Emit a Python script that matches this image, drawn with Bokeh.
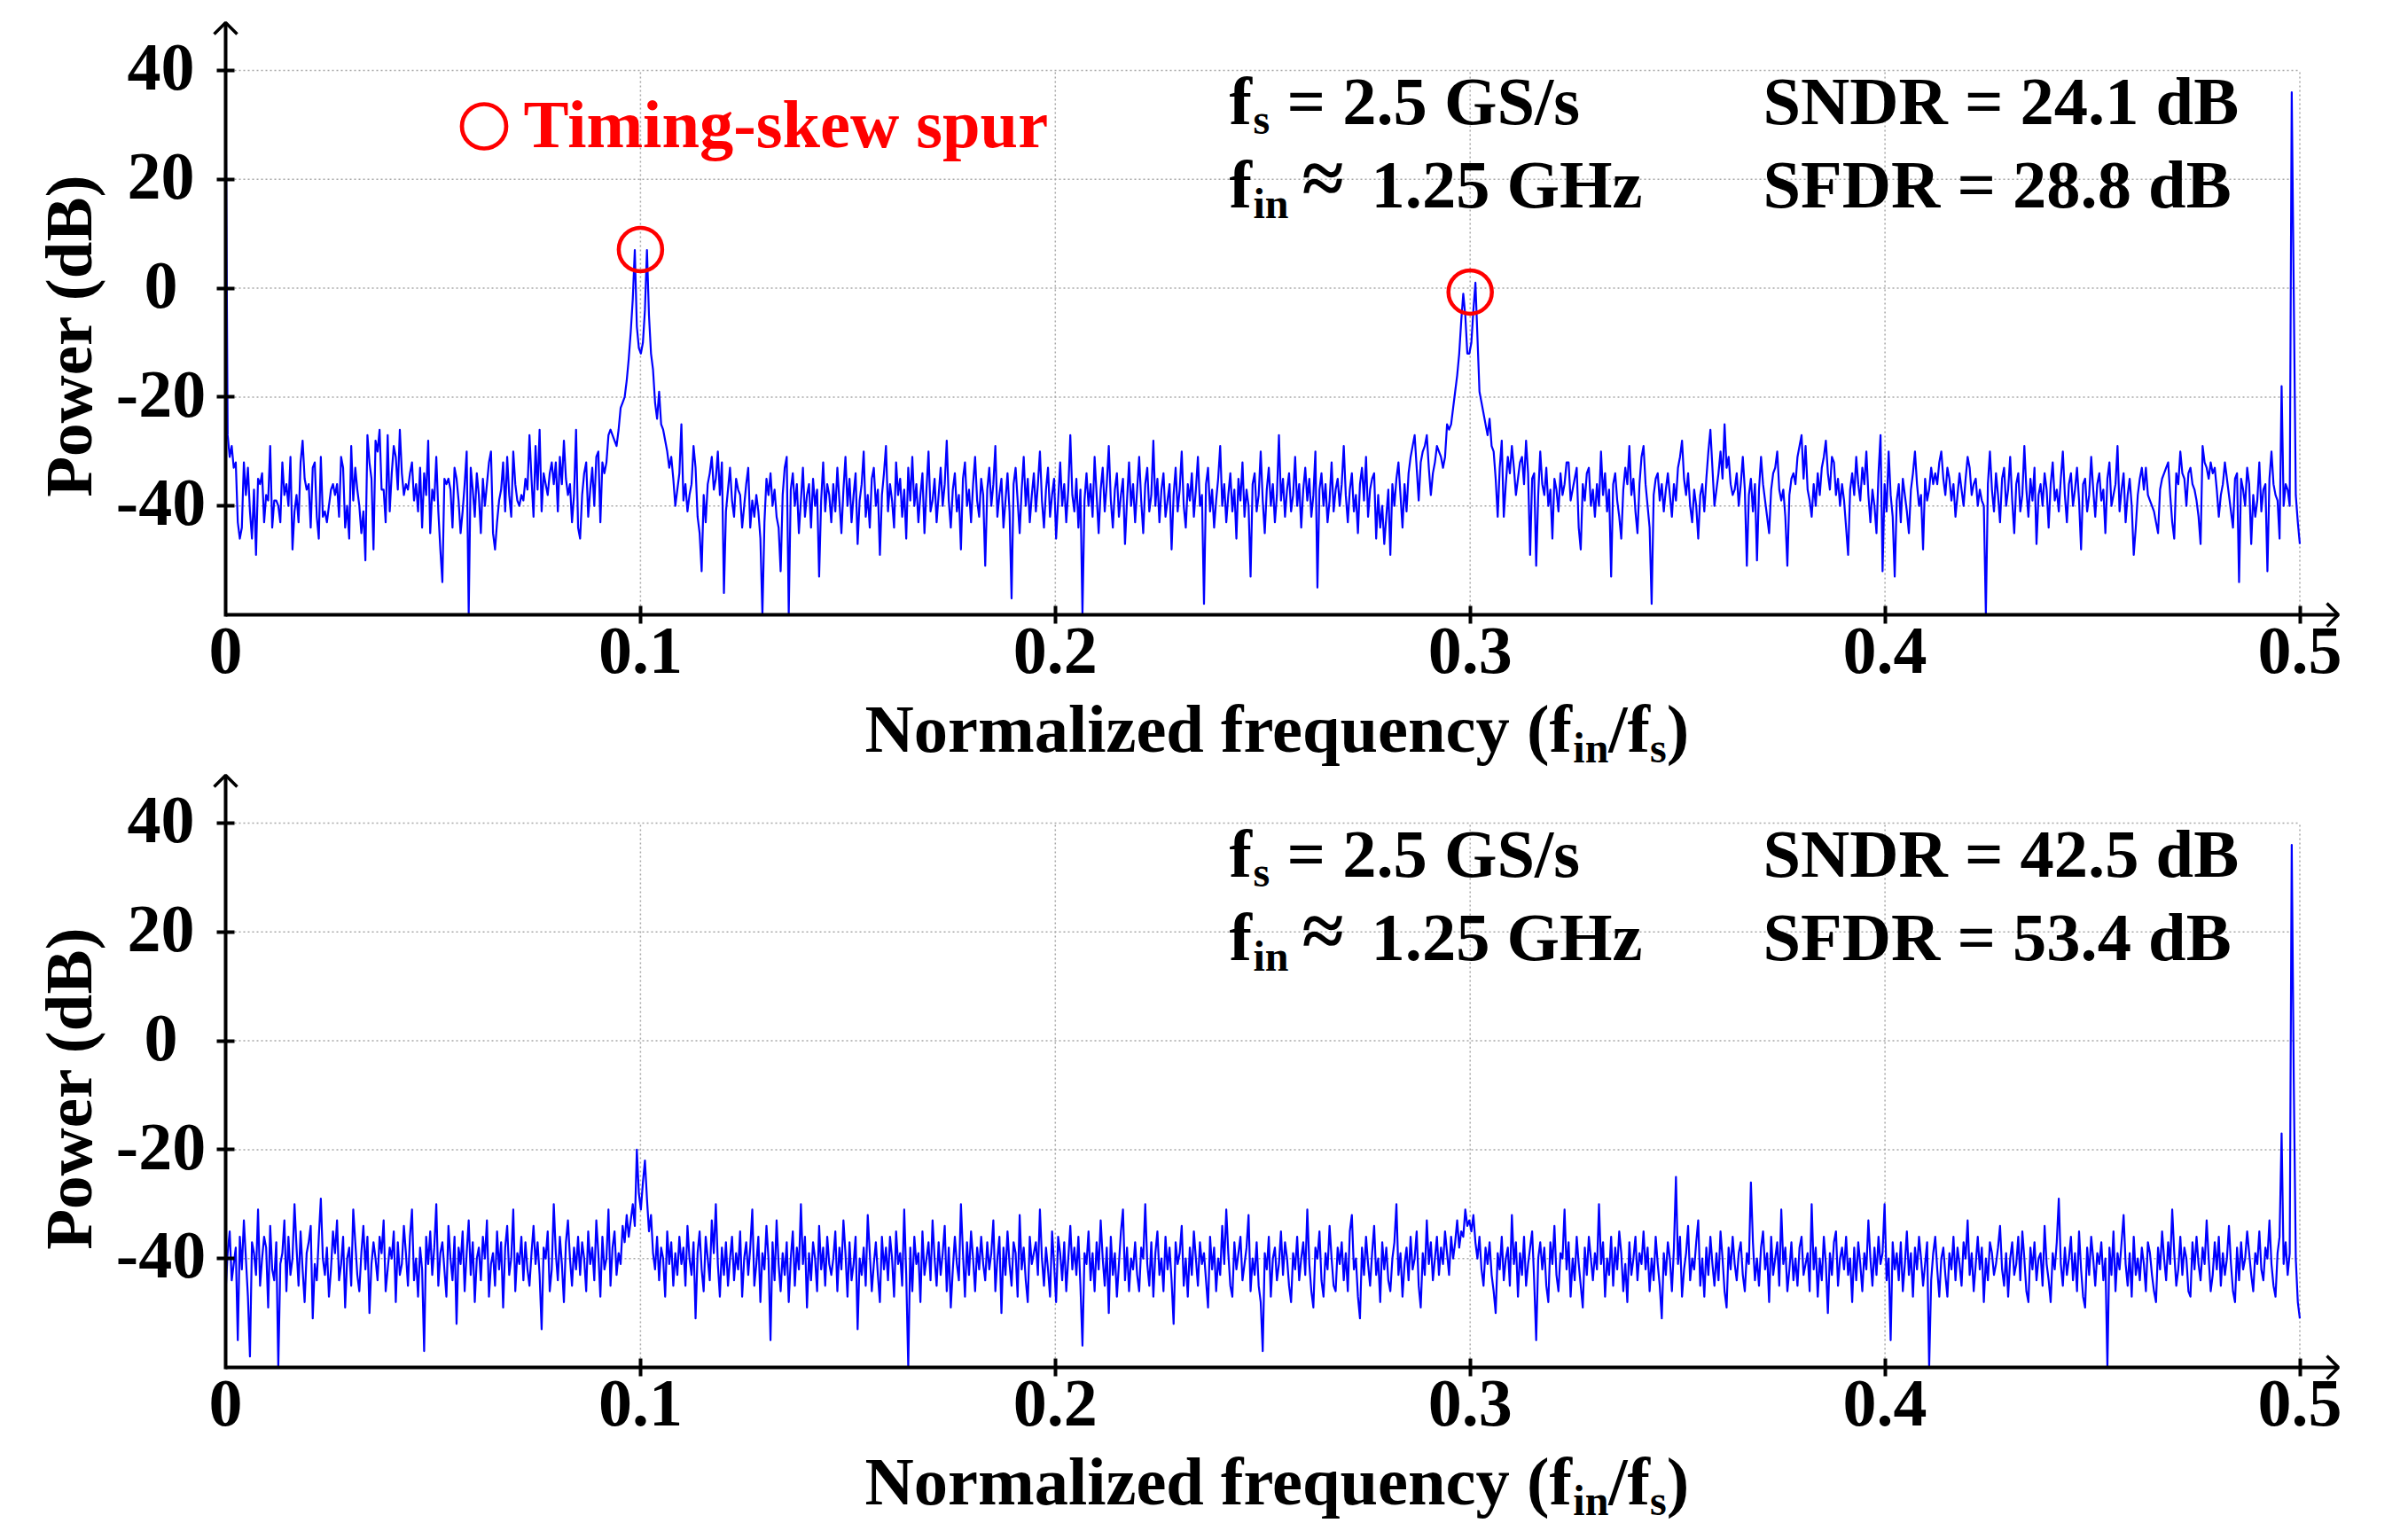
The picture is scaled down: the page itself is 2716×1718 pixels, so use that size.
import numpy as np
from bokeh.plotting import figure
from bokeh.models import LinearAxis, Range1d, FixedTicker
from bokeh.core.properties import value
from bokeh.embed import file_html
from bokeh.resources import INLINE

# ---------------- data (dB per FFT bin, 0 .. fs/2) ----------------
top_db = [
    37, -27, -31, -29, -33, -32, -43, -46, -44, -32, -38, -33, -41, -46, -37, -49, -35, -36, -34, -43, -38, -39, -29, -44, -39,
    -39, -40, -43, -32, -38, -36, -40, -31, -48, -41, -38, -43, -32, -28, -35, -37, -36, -44, -33, -32, -42, -46, -31, -42, -41,
    -43, -40, -37, -36, -38, -36, -42, -31, -33, -44, -40, -46, -29, -39, -33, -37, -40, -45, -41, -50, -27, -32, -35, -48, -28,
    -30, -26, -37, -37, -43, -27, -41, -34, -29, -31, -37, -26, -34, -38, -36, -37, -34, -32, -39, -36, -41, -33, -44, -34, -38,
    -28, -45, -37, -39, -31, -41, -48, -54, -35, -36, -35, -37, -44, -33, -35, -39, -45, -41, -36, -30, -60, -33, -37, -42, -34,
    -38, -45, -35, -40, -36, -32, -30, -45, -48, -43, -39, -37, -32, -41, -31, -38, -42, -30, -36, -39, -40, -38, -39, -35, -37,
    -27, -35, -42, -29, -37, -26, -41, -34, -36, -38, -34, -32, -36, -32, -41, -31, -36, -28, -35, -38, -36, -43, -38, -26, -44,
    -46, -38, -34, -32, -42, -37, -33, -40, -31, -30, -43, -32, -34, -32, -27, -26, -27, -28, -29, -26, -22, -21, -20, -17, -13,
    -8, -2, 7, -7, -11, -12, -10, -4, 7, -5, -12, -15, -21, -24, -19, -25, -26, -28, -30, -33, -31, -35, -40, -37, -34,
    -25, -39, -36, -41, -38, -36, -29, -33, -42, -45, -52, -38, -43, -36, -34, -31, -37, -35, -30, -38, -32, -56, -41, -37, -33,
    -39, -42, -35, -37, -38, -44, -40, -36, -33, -44, -39, -42, -38, -41, -46, -60, -43, -35, -38, -34, -40, -37, -42, -44, -52,
    -38, -33, -31, -60, -37, -34, -40, -36, -45, -39, -33, -42, -38, -36, -44, -35, -40, -37, -53, -39, -32, -41, -36, -38, -43,
    -36, -41, -33, -39, -45, -37, -31, -40, -35, -43, -38, -34, -47, -39, -36, -30, -42, -38, -44, -35, -33, -40, -37, -49, -38,
    -34, -29, -41, -36, -39, -44, -32, -38, -35, -42, -37, -46, -33, -39, -31, -40, -36, -43, -38, -34, -45, -37, -30, -41, -39,
    -35, -43, -38, -33, -40, -36, -28, -39, -44, -37, -34, -41, -38, -48, -35, -32, -40, -37, -43, -36, -31, -39, -42, -35, -38,
    -51, -37, -33, -40, -36, -29, -42, -38, -35, -44, -39, -34, -41, -57, -36, -33, -39, -45, -37, -31, -40, -35, -43, -38, -34,
    -41, -36, -30, -39, -44, -37, -33, -42, -38, -35, -46, -39, -32, -40, -36, -43, -37, -27, -38, -41, -35, -44, -37, -60, -39,
    -34, -40, -36, -42, -31, -38, -45, -37, -33, -41, -36, -29, -39, -44, -37, -34, -42, -38, -35, -47, -39, -32, -40, -36, -43,
    -37, -31, -39, -45, -36, -33, -41, -38, -28, -40, -35, -43, -37, -34, -42, -39, -36, -48, -38, -33, -41, -37, -30, -40, -44,
    -36, -39, -34, -42, -37, -31, -40, -38, -58, -36, -33, -41, -37, -44, -39, -35, -29, -40, -36, -43, -38, -34, -41, -37, -46,
    -35, -39, -32, -42, -37, -40, -53, -36, -34, -41, -38, -30, -39, -45, -37, -33, -40, -36, -43, -38, -27, -39, -35, -42, -37,
    -34, -41, -38, -31, -40, -36, -44, -37, -33, -39, -35, -42, -38, -30, -55, -37, -34, -40, -36, -43, -39, -32, -41, -37, -35,
    -40, -36, -29, -38, -43, -37, -34, -41, -38, -45, -36, -33, -39, -31, -42, -37, -35, -34, -46, -38, -44, -40, -47, -42, -37,
    -49, -36, -40, -35, -32, -38, -44, -36, -41, -34, -31, -29, -27, -33, -39, -32, -30, -29, -27, -33, -38, -34, -32, -29, -30,
    -31, -33, -31, -25, -26, -25, -22, -19, -16, -12, -6, -1, -5, -12, -12, -10, -4, 1, -9, -19, -21, -23, -25, -27, -24,
    -29, -30, -35, -42, -33, -28, -42, -36, -31, -34, -29, -33, -38, -35, -32, -31, -36, -28, -34, -49, -35, -34, -51, -38, -30,
    -36, -38, -33, -40, -37, -46, -35, -37, -41, -34, -38, -36, -32, -32, -39, -37, -35, -33, -44, -48, -36, -39, -34, -33, -40,
    -37, -42, -36, -40, -30, -38, -34, -41, -37, -53, -36, -34, -39, -42, -46, -37, -33, -36, -29, -38, -35, -41, -45, -36, -31,
    -29, -36, -40, -44, -58, -38, -35, -34, -39, -36, -41, -37, -34, -38, -42, -36, -39, -33, -31, -28, -35, -38, -34, -40, -43,
    -37, -40, -46, -38, -36, -41, -35, -30, -26, -33, -40, -37, -34, -30, -35, -25, -33, -31, -36, -38, -37, -34, -40, -36, -31,
    -37, -51, -38, -35, -41, -36, -50, -37, -31, -36, -39, -42, -45, -37, -34, -33, -30, -37, -39, -37, -42, -51, -38, -35, -34,
    -36, -31, -29, -27, -35, -29, -37, -39, -42, -36, -40, -34, -38, -33, -31, -28, -34, -37, -31, -32, -38, -35, -40, -36, -39,
    -44, -49, -37, -34, -38, -31, -36, -39, -33, -36, -30, -38, -43, -37, -40, -45, -34, -27, -52, -36, -41, -30, -38, -42, -53,
    -39, -36, -43, -35, -38, -41, -45, -37, -34, -30, -36, -40, -38, -48, -35, -39, -37, -33, -36, -34, -36, -32, -30, -35, -38,
    -33, -35, -39, -36, -42, -38, -34, -37, -40, -35, -31, -33, -38, -36, -35, -40, -37, -39, -40, -60, -36, -30, -37, -41, -34,
    -38, -43, -35, -33, -40, -37, -31, -39, -45, -36, -34, -41, -38, -29, -37, -42, -35, -39, -33, -47, -38, -36, -40, -34, -37,
    -44, -36, -32, -39, -37, -41, -35, -30, -38, -43, -36, -34, -40, -37, -33, -39, -48, -36, -35, -41, -38, -31, -37, -42, -36,
    -34, -39, -37, -45, -35, -32, -40, -38, -36, -29, -41, -37, -34, -43, -38, -35, -40, -49, -44, -38, -35, -33, -37, -33, -38,
    -39, -40, -41, -43, -45, -37, -35, -34, -33, -32, -38, -43, -46, -34, -36, -30, -34, -35, -40, -34, -33, -36, -37, -39, -42,
    -47, -29, -32, -33, -35, -32, -34, -33, -37, -42, -38, -36, -32, -35, -38, -41, -44, -35, -34, -54, -35, -37, -40, -33, -36,
    -47, -38, -42, -39, -32, -41, -37, -36, -52, -35, -30, -36, -38, -39, -46, -18, -40, -36, -37, -40, 36, -1, -38, -43, -47,
]

bottom_db = [
    -46, -39, -35, -44, -41, -38, -55, -36, -42, -33, -40, -47, -58, -37, -39, -43, -31, -45, -40, -36, -38, -49, -34, -42, -44,
    -37, -60, -41, -39, -33, -46, -36, -43, -40, -30, -38, -45, -35, -42, -48, -39, -37, -34, -51, -41, -44, -36, -29, -40, -43,
    -38, -47, -42, -35, -39, -33, -44, -41, -36, -49, -40, -38, -45, -31, -37, -43, -46, -39, -34, -42, -36, -50, -41, -37, -40,
    -44, -36, -39, -33, -46, -42, -38, -40, -35, -48, -37, -43, -41, -34, -39, -45, -36, -31, -44, -40, -47, -38, -42, -57, -36,
    -41, -35, -43, -38, -30, -45, -39, -37, -42, -47, -34, -40, -44, -36, -52, -38, -41, -35, -46, -39, -33, -43, -37, -48, -40,
    -38, -44, -36, -40, -33, -47, -41, -39, -45, -35, -42, -37, -49, -38, -34, -43, -40, -31, -46, -39, -41, -36, -44, -37, -42,
    -45, -39, -34, -41, -37, -43, -53, -38, -40, -35, -46, -42, -30, -39, -44, -36, -41, -48, -37, -33, -40, -45, -38, -42, -36,
    -43, -37, -40, -46, -35, -41, -38, -44, -33, -39, -47, -36, -42, -40, -31, -45, -38, -35, -43, -39, -41, -34, -37, -32, -36,
    -33, -30, -34, -20, -28, -31, -26, -22, -29, -35, -32, -39, -42, -36, -44, -38, -40, -47, -35, -41, -37, -45, -39, -43, -36,
    -41, -38, -45, -34, -40, -43, -37, -51, -39, -35, -42, -46, -36, -40, -44, -33, -39, -30, -41, -47, -38, -43, -37, -45, -40,
    -36, -44, -39, -42, -35, -47, -40, -37, -43, -38, -31, -45, -41, -36, -48, -39, -42, -34, -40, -55, -37, -44, -33, -41, -46,
    -39, -43, -37, -48, -40, -35, -45, -38, -42, -30, -41, -36, -49, -39, -44, -37, -40, -46, -34, -42, -38, -45, -36, -41, -43,
    -40, -35, -46, -38, -42, -33, -39, -47, -37, -44, -41, -36, -53, -40, -43, -38, -45, -32, -39, -46, -41, -37, -43, -48, -36,
    -42, -38, -44, -36, -40, -47, -35, -41, -39, -45, -31, -43, -60, -38, -46, -36, -41, -39, -48, -35, -43, -40, -37, -44, -33,
    -40, -45, -37, -43, -39, -34, -46, -38, -49, -42, -36, -41, -44, -30, -39, -47, -37, -43, -35, -40, -46, -38, -42, -36, -41,
    -44, -37, -42, -39, -33, -46, -40, -36, -50, -38, -43, -35, -41, -45, -37, -39, -47, -32, -42, -38, -44, -48, -36, -41, -39,
    -37, -43, -31, -40, -45, -38, -42, -47, -35, -41, -48, -36, -39, -44, -37, -46, -40, -34, -42, -38, -43, -36, -45, -56, -39,
    -41, -35, -44, -39, -46, -37, -42, -33, -40, -45, -38, -50, -36, -43, -39, -47, -41, -35, -31, -44, -38, -46, -40, -42, -37,
    -43, -46, -38, -40, -30, -41, -45, -37, -47, -39, -35, -43, -40, -46, -36, -42, -38, -44, -52, -37, -41, -39, -34, -45, -40,
    -47, -38, -43, -35, -40, -45, -37, -41, -39, -44, -49, -36, -42, -38, -46, -40, -43, -34, -41, -31, -39, -45, -47, -37, -42,
    -39, -36, -44, -41, -38, -32, -46, -40, -43, -37, -45, -48, -57, -39, -42, -36, -47, -40, -38, -44, -41, -35, -43, -37, -40,
    -45, -48, -39, -42, -36, -44, -40, -37, -43, -31, -41, -46, -49, -38, -40, -35, -44, -47, -39, -42, -34, -40, -45, -46, -38,
    -41, -37, -44, -39, -46, -35, -32, -42, -40, -47, -51, -38, -43, -36, -41, -45, -39, -34, -43, -40, -48, -37, -42, -38, -44,
    -46, -40, -37, -30, -43, -39, -47, -41, -38, -44, -36, -42, -40, -35, -45, -49, -39, -43, -33, -41, -37, -44, -40, -36, -43,
    -38, -41, -35, -39, -43, -36, -40, -37, -33, -38, -35, -36, -31, -34, -33, -35, -32, -37, -40, -36, -42, -45, -38, -41, -37,
    -43, -46, -50, -39, -42, -36, -44, -40, -38, -45, -32, -41, -37, -47, -39, -43, -36, -45, -41, -38, -35, -44, -55, -40, -37,
    -42, -38, -45, -48, -37, -41, -34, -43, -46, -39, -40, -31, -42, -37, -47, -40, -44, -36, -41, -45, -49, -38, -43, -36, -40,
    -44, -39, -42, -30, -41, -37, -47, -40, -43, -36, -45, -38, -42, -35, -39, -46, -41, -48, -37, -43, -40, -36, -44, -39, -41,
    -35, -42, -38, -46, -40, -44, -36, -41, -45, -51, -39, -43, -37, -40, -46, -38, -25, -41, -36, -47, -42, -39, -34, -44, -40,
    -42, -37, -33, -45, -40, -47, -38, -43, -36, -41, -45, -39, -44, -35, -40, -46, -49, -38, -42, -36, -41, -44, -39, -37, -43,
    -46, -39, -41, -26, -37, -44, -40, -45, -38, -35, -42, -39, -48, -36, -43, -40, -37, -45, -31, -41, -38, -46, -42, -37, -44,
    -40, -45, -38, -36, -43, -41, -39, -46, -30, -42, -38, -47, -40, -44, -36, -41, -50, -39, -43, -37, -35, -45, -40, -38, -42,
    -36, -43, -40, -48, -38, -44, -37, -41, -46, -39, -42, -33, -40, -45, -38, -43, -36, -41, -39, -30, -44, -40, -55, -37, -42,
    -39, -44, -37, -46, -41, -35, -43, -39, -47, -38, -42, -36, -40, -45, -41, -37, -60, -44, -39, -36, -42, -47, -40, -38, -43,
    -47, -39, -42, -36, -44, -38, -41, -45, -37, -40, -33, -43, -39, -46, -41, -36, -42, -38, -48, -40, -44, -37, -39, -43, -41,
    -38, -34, -42, -45, -39, -47, -40, -37, -43, -41, -36, -44, -35, -40, -46, -48, -38, -42, -37, -44, -40, -39, -45, -34, -41,
    -44, -48, -39, -42, -37, -29, -41, -45, -38, -43, -40, -36, -44, -39, -46, -35, -42, -47, -49, -38, -43, -36, -40, -45, -39,
    -41, -37, -44, -40, -60, -38, -43, -35, -46, -39, -42, -37, -32, -41, -45, -39, -47, -36, -43, -40, -44, -38, -41, -46, -37,
    -39, -43, -46, -48, -38, -42, -35, -40, -44, -37, -41, -31, -39, -45, -42, -36, -43, -38, -40, -46, -47, -37, -42, -36, -41,
    -44, -38, -41, -33, -40, -46, -43, -37, -42, -36, -45, -39, -43, -40, -34, -41, -46, -48, -38, -44, -37, -42, -40, -35, -39,
    -43, -46, -39, -41, -35, -42, -44, -38, -40, -33, -41, -45, -47, -39, -36, -17, -41, -37, -43, -39, 36, -7, -40, -48, -51,
]

x_ticks = [0.1, 0.2, 0.3, 0.4, 0.5]
x_label_pos = [0, 0.1, 0.2, 0.3, 0.4, 0.5]
x_labels = ["0", "0.1", "0.2", "0.3", "0.4", "0.5"]
y_ticks = [-40, -20, 0, 20, 40]
y_labels = ["-40", "-20", "0", "20", "40"]
x_min, x_max = 0.0, 0.5
y_min, y_max = -60, 40

spur_freq = [0.1, 0.3]
spur_db = [7.1, -0.7]

top_metrics = ["SNDR = 24.1 dB", "SFDR = 28.8 dB"]
bottom_metrics = ["SNDR = 42.5 dB", "SFDR = 53.4 dB"]
cond_rows = [["f", "s", "= 2.5 GS/s"], ["f", "in", "\u2248", "1.25 GHz"]]
cond_kinds = [["main", "sub", "main"], ["main", "sub", "sym", "main"]]
x_title = [("Normalized frequency (f", "main"), ("in", "sub"), ("/f", "main"), ("s", "sub"), (")", "main")]
y_title = "Power (dB)"
legend_text = "Timing-skew spur"

# ---------------- layout (page pixels, panel-local) ----------------
W, H = 2716, 1718
PANEL_H = 849
X0 = 254.0        # px of f = 0
PXU = 4679.0      # px per unit of normalized frequency
TOP40 = 79.0      # px of 40 dB
PXD = 6.14        # px per dB
FONT = "Liberation Serif"
BIG, TICKF, YT = 76.5, 76.0, 75.0
KIND_SIZE = {"main": 76.5, "sub": 48.0, "sym": 86.0}
KIND_DROP = {"main": 0.0, "sub": 10.0, "sym": -5.0}
BASE_K = 0.36     # anchor correction (fraction of font size) to reach the glyph baseline
BLUE, RED, GRID = "#0000ff", "#ff0000", "#a8a8a8"
cond_x = [[1386, 1413, 1451], [1386, 1413, 1468, 1546]]
cond_base = [141.5, 236]

ADV = {' ': 250, '(': 333, ')': 333, '/': 278, '.': 250, '=': 570, '\u2248': 549, '-': 333,
       '0': 500, '1': 500, '2': 500, '3': 500, '4': 500, '5': 500, '6': 500, '7': 500, '8': 500, '9': 500,
       'G': 778, 'S': 556, 'H': 778, 'N': 722, 'D': 722, 'R': 722, 'F': 611, 'B': 667, 'T': 667,
       'a': 500, 'c': 444, 'd': 556, 'e': 444, 'f': 333, 'g': 500, 'i': 278, 'k': 556, 'l': 278,
       'm': 833, 'n': 556, 'o': 500, 'p': 556, 'q': 556, 'r': 444, 's': 389, 'u': 556, 'w': 722,
       'y': 500, 'z': 444}


def tw(s, size):
    return sum(ADV.get(c, 500) for c in s) * size / 1000.0


def xd(px):
    return (px - X0) / PXU


def yd(px):
    return 40 - (px - TOP40) / PXD


def yb(base_px, size):
    # data y of a text anchor whose glyph baseline should sit at base_px
    return yd(base_px - BASE_K * size)


p = figure(width=W, height=H, x_range=Range1d(xd(0), xd(W)), y_range=Range1d(yd(H), yd(0)),
           x_axis_type=None, y_axis_type=None, toolbar_location=None, output_backend="svg",
           min_border=0, outline_line_color=None, background_fill_color="white",
           border_fill_color="white")
p.title.visible = False
p.extra_y_ranges = {"bot": Range1d(yd(H - PANEL_H), yd(-PANEL_H))}

TXT = dict(text_font=value(FONT), text_font_style="bold", text_color="black")


def piece(s, kind, x_px, base_px, yname, color="black"):
    size = KIND_SIZE[kind]
    p.text(x=[xd(x_px)], y=[yb(base_px + KIND_DROP[kind], size)], text=[s],
           text_font=value(FONT), text_font_style="bold", text_color=color,
           text_font_size=f"{size}px", text_align="left", text_baseline="alphabetic",
           y_range_name=yname)


def rich(parts, x_px, base_px, yname):
    x = x_px
    for s, kind in parts:
        piece(s, kind, x, base_px, yname)
        x += tw(s, KIND_SIZE[kind])


panels = [("default", top_db, top_metrics, True), ("bot", bottom_db, bottom_metrics, False)]
TIP_Y, TIP_X, AH = 25.0, 2637.0, 13.0
for yname, db, metrics, spurs in panels:
    # dotted grid
    p.segment(x0=x_ticks, y0=[y_min] * len(x_ticks), x1=x_ticks, y1=[y_max] * len(x_ticks),
              line_color=GRID, line_width=1.5, line_dash="2 3", y_range_name=yname)
    p.segment(x0=[x_min] * len(y_ticks), y0=y_ticks, x1=[x_max] * len(y_ticks), y1=y_ticks,
              line_color=GRID, line_width=1.5, line_dash="2 3", y_range_name=yname)
    # spectrum
    freq = np.linspace(x_min, x_max, len(db))
    p.line(freq, db, line_color=BLUE, line_width=2.2, line_join="round", y_range_name=yname)
    # axes
    ty, tx = yd(TIP_Y), xd(TIP_X)
    ya = LinearAxis(y_range_name=yname, fixed_location=0, bounds=(y_min - 0.3, ty),
                    ticker=FixedTicker(ticks=y_ticks), axis_line_width=4, axis_line_color="black",
                    major_tick_line_width=4, major_tick_in=10, major_tick_out=10,
                    minor_tick_line_color=None, major_label_text_color=None)
    p.add_layout(ya, "left")
    xa = LinearAxis(y_range_name=yname, fixed_location=y_min, bounds=(x_min, tx),
                    ticker=FixedTicker(ticks=x_ticks), axis_line_width=4, axis_line_color="black",
                    major_tick_line_width=4, major_tick_in=10, major_tick_out=10,
                    minor_tick_line_color=None, major_label_text_color=None)
    p.add_layout(xa, "below")
    # arrow heads
    p.line([-AH / PXU, 0, AH / PXU], [ty - AH / PXD, ty, ty - AH / PXD],
           line_color="black", line_width=3.5, y_range_name=yname)
    p.line([tx - AH / PXU, tx, tx - AH / PXU], [y_min + AH / PXD, y_min, y_min - AH / PXD],
           line_color="black", line_width=3.5, y_range_name=yname)
    # tick labels
    p.text(x=[xd(181)] * len(y_ticks), y=[t - (24 - BASE_K * TICKF) / PXD for t in y_ticks],
           text=y_labels, text_font_size=f"{TICKF}px", text_align="center",
           text_baseline="alphabetic", y_range_name=yname, **TXT)
    p.text(x=x_label_pos, y=[y_min - (67.5 - BASE_K * TICKF) / PXD] * len(x_label_pos),
           text=x_labels, text_font_size=f"{TICKF}px", text_align="center",
           text_baseline="alphabetic", y_range_name=yname, **TXT)
    # axis titles
    p.text(x=[xd(104 - BASE_K * YT)], y=[yd(378)], text=[y_title], angle=np.pi / 2,
           text_font_size=f"{YT}px", text_align="center", text_baseline="alphabetic",
           y_range_name=yname, **TXT)
    rich(x_title, 975, 850, yname)
    # annotations
    for row, kinds, xs, base in zip(cond_rows, cond_kinds, cond_x, cond_base):
        for s, kind, x in zip(row, kinds, xs):
            piece(s, kind, x, base, yname)
    p.text(x=[xd(1988)] * 2, y=[yb(cond_base[0], BIG), yb(cond_base[1], BIG)], text=metrics,
           text_font_size=f"{BIG}px", text_align="left", text_baseline="alphabetic",
           y_range_name=yname, **TXT)
    if spurs:
        p.scatter(spur_freq, spur_db, marker="circle", size=49, fill_color=None,
                  line_color=RED, line_width=4.5, y_range_name=yname)
        p.scatter([xd(545.5)], [yd(142)], marker="circle", size=50, fill_color=None,
                  line_color=RED, line_width=4.7, y_range_name=yname)
        p.text(x=[xd(590)], y=[yb(168, BIG)], text=[legend_text], text_font=value(FONT),
               text_font_style="bold", text_color=RED, text_font_size=f"{BIG}px",
               text_align="left", text_baseline="alphabetic", y_range_name=yname)

open("out.html", "w").write(file_html(p, INLINE))
